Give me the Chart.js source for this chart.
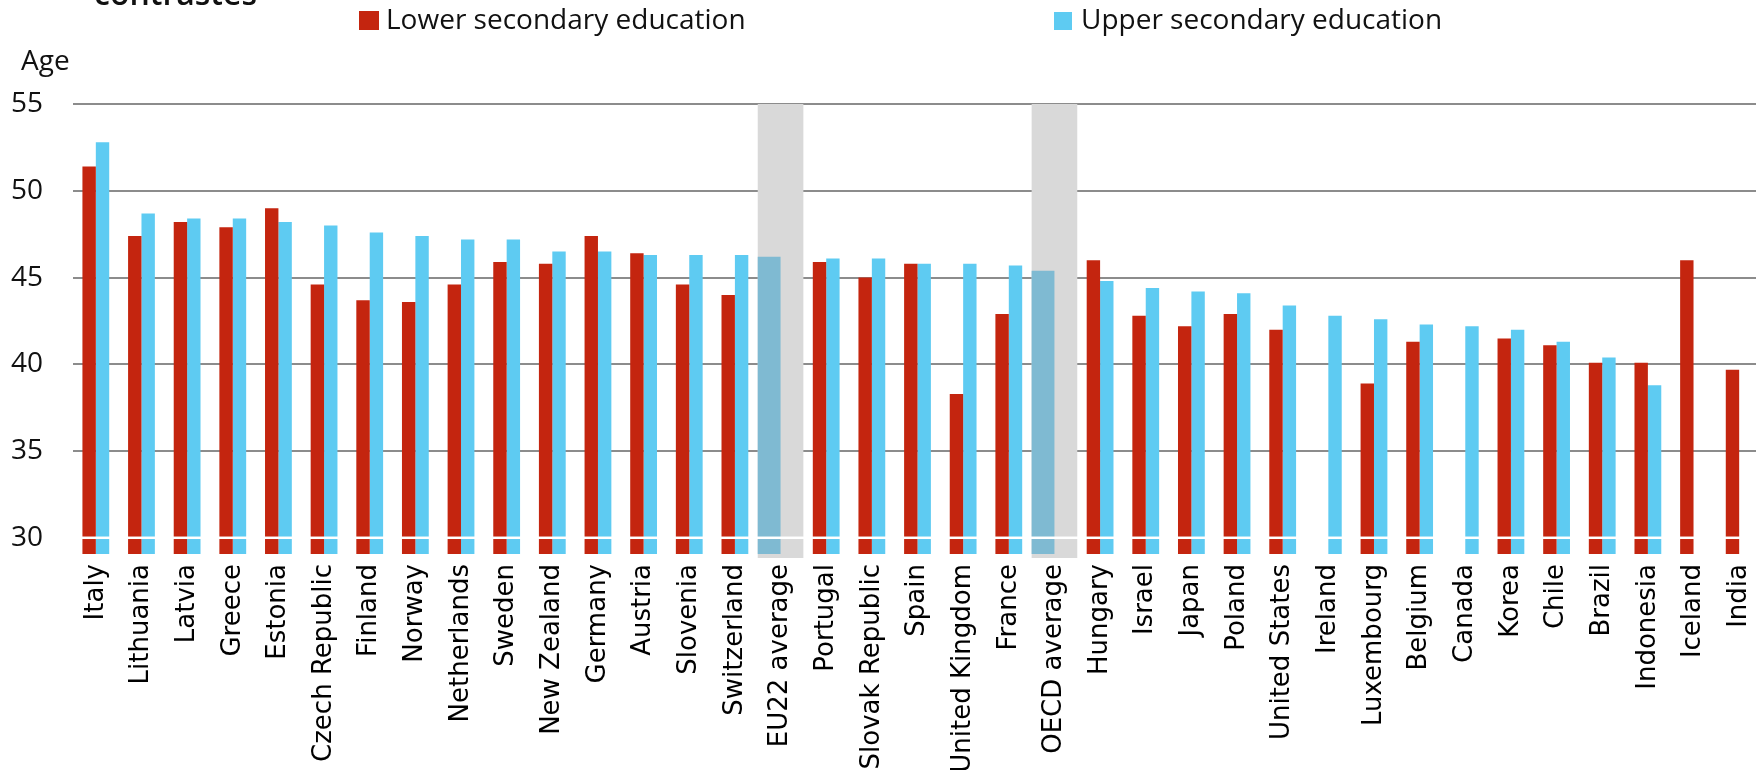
<!DOCTYPE html>
<html>
<head>
<meta charset="utf-8">
<script src="https://cdn.jsdelivr.net/npm/chart.js@4.4.1/dist/chart.umd.min.js"></script>
<style>
  html, body { margin: 0; padding: 0; background: #fff; overflow: hidden; }
  #wrap { position: relative; width: 1756px; height: 770px; overflow: hidden; }
  #ageChart { position: absolute; left: 0; top: 0; }
  .txt { position: absolute; font-family: "Open Sans", sans-serif; font-size: 28px; line-height: 28px; color: #111; white-space: nowrap; }
  .sw { position: absolute; }
</style>
</head>
<body>
<div id="wrap">
  <canvas id="ageChart" width="1780" height="770"></canvas>
  <div class="txt" style="left:94px; top:-23px; font-size:32px; line-height:32px; font-weight:600;">contrastes</div>
  <div class="sw" style="left:359px; top:11px; width:20px; height:19px; background:#c4250f;"></div>
  <div class="txt" style="left:386px; top:4px;">Lower secondary education</div>
  <div class="sw" style="left:1054px; top:12px; width:18px; height:18px; background:#5ecbf2;"></div>
  <div class="txt" style="left:1081px; top:4px;">Upper secondary education</div>
  <div class="txt" style="left:21px; top:45px;">Age</div>
</div>
<script>
// countries, sorted by the upper secondary teachers' age
const countries = ["Italy", "Lithuania", "Latvia", "Greece", "Estonia", "Czech Republic", "Finland",
    "Norway", "Netherlands", "Sweden", "New Zealand", "Germany", "Austria", "Slovenia", "Switzerland",
    "EU22 average", "Portugal", "Slovak Republic", "Spain", "United Kingdom", "France", "OECD average",
    "Hungary", "Israel", "Japan", "Poland", "United States", "Ireland", "Luxembourg", "Belgium",
    "Canada", "Korea", "Chile", "Brazil", "Indonesia", "Iceland", "India"];

const lowerSecondary = [51.4, 47.4, 48.2, 47.9, 49.0, 44.6, 43.7, 43.6, 44.6, 45.9, 45.8, 47.4, 46.4,
    44.6, 44.0, 44.8, 45.9, 45.0, 45.8, 38.3, 42.9, 44.2, 46.0, 42.8, 42.2, 42.9, 42.0, null, 38.9,
    41.3, null, 41.5, 41.1, 40.1, 40.1, 46.0, 39.7];

const upperSecondary = [52.8, 48.7, 48.4, 48.4, 48.2, 48.0, 47.6, 47.4, 47.2, 47.2, 46.5, 46.5, 46.3,
    46.3, 46.3, 46.2, 46.1, 46.1, 45.8, 45.8, 45.7, 45.4, 44.8, 44.4, 44.2, 44.1, 43.4, 42.8, 42.6,
    42.3, 42.2, 42.0, 41.3, 40.4, 38.8, null, null];

const averages = ["EU22 average", "OECD average"];
const yTicks = [30, 35, 40, 45, 50, 55];
const yMin = 29.08;
const yMax = 55;
const breakAt = 30;

// bar width as a share of one category, and how far each bar sits off centre
const barFrac = 0.2935;
const avgFrac = 0.5;

const isAvg = (i) => averages.includes(countries[i]);
const n = countries.length;

// every bar series sits on its own hidden linear axis, shifted so the pairs
// line up side by side under the category labels
const lowerPoints = lowerSecondary.map((v, i) => ({ x: i, y: v }));
const upperPoints = upperSecondary.map((v, i) => ({ x: i, y: isAvg(i) ? null : v }));
const avgPoints = upperSecondary.map((v, i) => ({ x: i, y: isAvg(i) ? v : null }));

function shiftedAxis(shift) {
    return {
        type: 'linear',
        display: false,
        offset: false,
        min: -0.5 - shift,
        max: n - 0.5 - shift,
        ticks: { stepSize: 1, includeBounds: false },
        grid: { display: false }
    };
}

const avgBand = {
    id: 'avgBand',
    beforeDatasetDraw(chart, args) {
        if (args.index !== 2) return;
        const x = chart.scales.x, y = chart.scales.y;
        const c = chart.ctx;
        const w = (x.right - x.left) / n;
        const top = y.getPixelForValue(yMax);
        const bottom = chart.chartArea.bottom + 4;
        c.save();
        c.fillStyle = '#d9d9d9';
        countries.forEach((name, i) => {
            if (!isAvg(i)) return;
            const cx = x.getPixelForValue(i);
            c.fillRect(cx - w / 2, top, w, bottom - top);
        });
        c.restore();
    },
    afterDatasetsDraw(chart) {
        // axis break
        const y = chart.scales.y, a = chart.chartArea;
        const c = chart.ctx;
        const py = y.getPixelForValue(breakAt);
        c.save();
        c.fillStyle = '#ffffff';
        c.fillRect(a.left, py - 1.5, a.right - a.left, 2.5);
        c.restore();
    }
};

const ctx = document.getElementById("ageChart").getContext("2d");
const ageChart = new Chart(ctx, {
    type: 'bar',
    data: {
        labels: countries,
        datasets: [
            {
                label: 'Lower secondary education',
                data: lowerPoints,
                backgroundColor: '#c4250f',
                xAxisID: 'xLow',
                order: 1,
                grouped: false,
                categoryPercentage: barFrac,
                barPercentage: 1.0
            },
            {
                label: 'Upper secondary education',
                data: upperPoints,
                backgroundColor: '#5ecbf2',
                xAxisID: 'xUp',
                order: 1,
                grouped: false,
                categoryPercentage: barFrac,
                barPercentage: 1.0
            },
            {
                label: 'avg',
                data: avgPoints,
                backgroundColor: '#7fbad2',
                xAxisID: 'xAvg',
                order: 0,
                grouped: false,
                categoryPercentage: avgFrac,
                barPercentage: 1.0
            }
        ]
    },
    options: {
        responsive: false,
        animation: false,
        layout: { padding: { top: 104, right: 18, left: 0, bottom: 0 } },
        plugins: {
            legend: { display: false },
            tooltip: { enabled: false }
        },
        scales: {
            x: {
                type: 'category',
                offset: true,
                grid: { display: false },
                border: { display: false },
                ticks: {
                    autoSkip: false,
                    minRotation: 90,
                    maxRotation: 90,
                    padding: 2,
                    color: '#000',
                    font: { family: '"DejaVu Sans"', size: 26 }
                },
                afterFit(axis) { axis.height = 216; }
            },
            xLow: shiftedAxis(-barFrac / 2),
            xUp: shiftedAxis(barFrac / 2),
            xAvg: shiftedAxis(-avgFrac / 2),
            y: {
                min: yMin,
                max: yMax,
                border: { display: false },
                grid: {
                    color: (c) => (c.tick && c.tick.value === breakAt) ? 'rgba(0,0,0,0)' : '#8c8c8c',
                    lineWidth: 2,
                    drawTicks: false
                },
                ticks: {
                    padding: 30,
                    color: '#111',
                    font: { family: '"Open Sans"', size: 28 }
                },
                afterBuildTicks(axis) { axis.ticks = yTicks.map(v => ({ value: v })); },
                afterFit(axis) { axis.width = 73; }
            }
        }
    },
    plugins: [avgBand]
});
</script>
</body>
</html>
